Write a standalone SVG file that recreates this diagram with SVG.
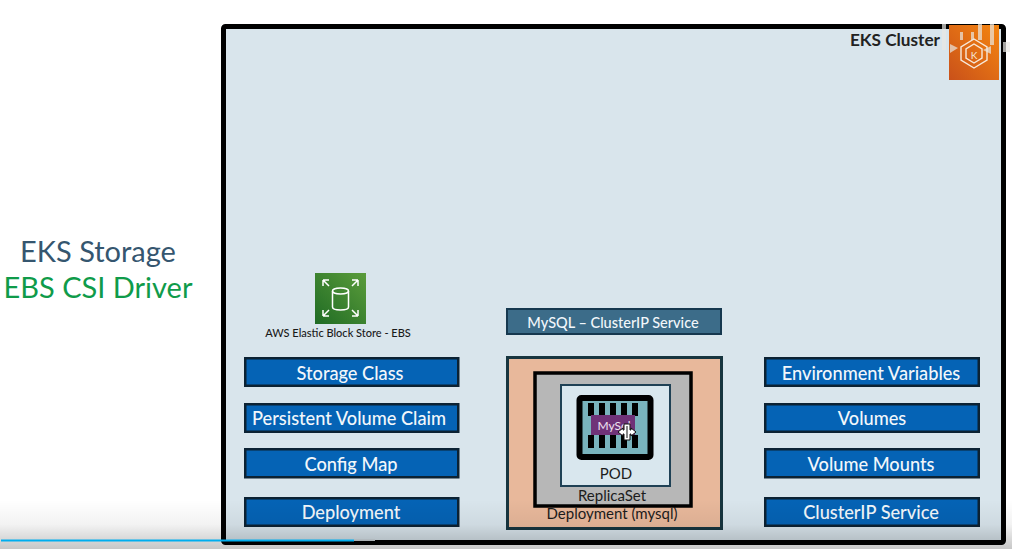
<svg xmlns="http://www.w3.org/2000/svg" width="1012" height="549" viewBox="0 0 1012 549">
<style>
text{font-family:Lato,"Liberation Sans",sans-serif;text-anchor:middle}
.box{fill:#0563b5;stroke:#0c2233;stroke-width:2.5}
.lbl{fill:#f2f7fb;font-size:18.200px;font-weight:500}
.dark{fill:#1c1c1c}
.chip{fill:#000}
</style>
<defs>
<linearGradient id="shade" x1="0" y1="0" x2="0" y2="1"><stop offset="0" stop-color="#000" stop-opacity="0"/><stop offset=".5" stop-color="#000" stop-opacity=".05"/><stop offset="1" stop-color="#000" stop-opacity=".22"/></linearGradient>
<linearGradient id="green" x1="0" y1="1" x2="1" y2="0"><stop offset="0" stop-color="#1f6b24"/><stop offset="1" stop-color="#5b9c3b"/></linearGradient>
<linearGradient id="orange" x1="0" y1="1" x2="1" y2="0"><stop offset="0" stop-color="#c9511a"/><stop offset="1" stop-color="#f58510"/></linearGradient>
</defs>
<rect width="1012" height="549" fill="#fff"/>
<g id="title">
<text x="98" y="262" font-size="29" fill="#35566f">EKS Storage</text>
<text x="98" y="298" font-size="29" fill="#0f9b4a">EBS CSI Driver</text>
</g>
<g id="cluster">
<rect x="223.500" y="26.500" width="780" height="516" rx="2" fill="#d9e5ec" stroke="#000" stroke-width="5"/>
<text x="895" y="46" font-size="17.200" font-weight="700" fill="#222">EKS Cluster</text>
<rect x="949" y="25" width="50" height="55" fill="url(#orange)"/>
<g fill="none" stroke="#f7e9da" stroke-width="1.400">
<path d="M974 39l13 8v13l-13 8-13-8v-13z"/><path d="M974 44l8 5v9l-8 5-8-5v-9z"/>
</g>
<text x="974" y="59" font-size="10" fill="#f7e9da">K</text>
<path d="M942 24h4v26h-4zM950 44l8 4-8 5zM960 32h3v8h-3zM971 32h3v8h-3zM978 24h4v16h-4zM990 24h4v21h-4zM991 46l-8 4 8 4zM1003 42h7v10h-7z" fill="#e8e8e4" opacity=".7"/>
</g>
<g id="ebs">
<rect x="315" y="273" width="51" height="51" fill="url(#green)"/>
<g fill="none" stroke="#fff" stroke-width="1.500">
<ellipse cx="340.500" cy="291" rx="8" ry="3"/><path d="M332.500 291v16c0 4 16 4 16 0v-16"/>
<path d="M323 280l6 6M323 280v6M323 280h6M358 280l-6 6M358 280v6M358 280h-6M323 316l6-6M323 316v-6M323 316h6M358 316l-6-6M358 316v-6M358 316h-6"/>
</g>
<text x="338" y="337" font-size="11" font-weight="500" fill="#1a1a1a">AWS Elastic Block Store - EBS</text>
</g>
<g id="service"><rect x="507" y="309" width="214" height="25" fill="#3c6c89" stroke="#16384f" stroke-width="2"/><text x="613" y="328" font-size="14.500" font-weight="500" fill="#f2f7fb">MySQL – ClusterIP Service</text></g>
<g id="storage-class"><rect class="box" x="245.250" y="358.250" width="213" height="27.500"/><text class="lbl" x="350" y="380">Storage Class</text></g>
<g id="pvc"><rect class="box" x="245.250" y="404.250" width="213" height="27.500"/><text class="lbl" x="349" y="425">Persistent Volume Claim</text></g>
<g id="config-map"><rect class="box" x="245.250" y="449.250" width="213" height="28"/><text class="lbl" x="351" y="471">Config Map</text></g>
<g id="deployment-box"><rect class="box" x="245.250" y="498.250" width="213" height="27.500"/><text class="lbl" x="351" y="519">Deployment</text></g>
<g id="env"><rect class="box" x="765.250" y="358.250" width="213.500" height="27.500"/><text class="lbl" x="871" y="380">Environment Variables</text></g>
<g id="volumes"><rect class="box" x="765.250" y="404.250" width="213.500" height="27.500"/><text class="lbl" x="872" y="425">Volumes</text></g>
<g id="mounts"><rect class="box" x="765.250" y="449.250" width="213.500" height="28"/><text class="lbl" x="871" y="471">Volume Mounts</text></g>
<g id="clusterip"><rect class="box" x="765.250" y="498.250" width="213.500" height="27.500"/><text class="lbl" x="871" y="519">ClusterIP Service</text></g>
<g id="deployment"><rect x="507.500" y="357.500" width="214" height="171" fill="#e8b89b" stroke="#17353f" stroke-width="3"/><text class="dark" x="612" y="519" font-size="15">Deployment (mysql)</text></g>
<g id="replicaset"><rect x="535" y="373" width="156" height="133" fill="#b7b7b7" stroke="#000" stroke-width="3.500"/><text class="dark" x="612" y="501" font-size="15">ReplicaSet</text></g>
<g id="pod"><rect x="561" y="385" width="109" height="101" fill="#d9e7ee" stroke="#1f4155" stroke-width="2"/><text class="dark" x="616" y="479" font-size="15">POD</text></g>
<g id="mysql">
<rect x="579.500" y="398" width="71" height="59" rx="2" fill="#79b3bd" stroke="#000" stroke-width="6"/>
<path class="chip" d="M588 403h6v13h-6zM599 403h6v13h-6zM610 403h6v13h-6zM621 403h6v13h-6zM632 403h6v13h-6zM588 435h6v13h-6zM599 435h6v13h-6zM610 435h6v13h-6zM621 435h6v13h-6zM632 435h6v13h-6z"/>
<rect x="591" y="415" width="44" height="20" fill="#6f3278"/>
<text x="614" y="430" font-size="12" fill="#f0e4f2">MySql</text>
<path d="M618 432l5-4v2h1v-6h6v6h1v-2l5 4-5 4v-2h-1v6h-6v-6h-1v2z" fill="#fff" stroke="#111" stroke-width="1"/>
<path d="M627 426v12" stroke="#111"/>
</g>
<rect x="0" y="500" width="1012" height="49" fill="url(#shade)"/>
<g id="progress"><rect x="1" y="539.500" width="353" height="2" fill="#00aeef"/><rect x="354" y="539.500" width="21" height="1.500" fill="#aab0b3"/></g>
</svg>
